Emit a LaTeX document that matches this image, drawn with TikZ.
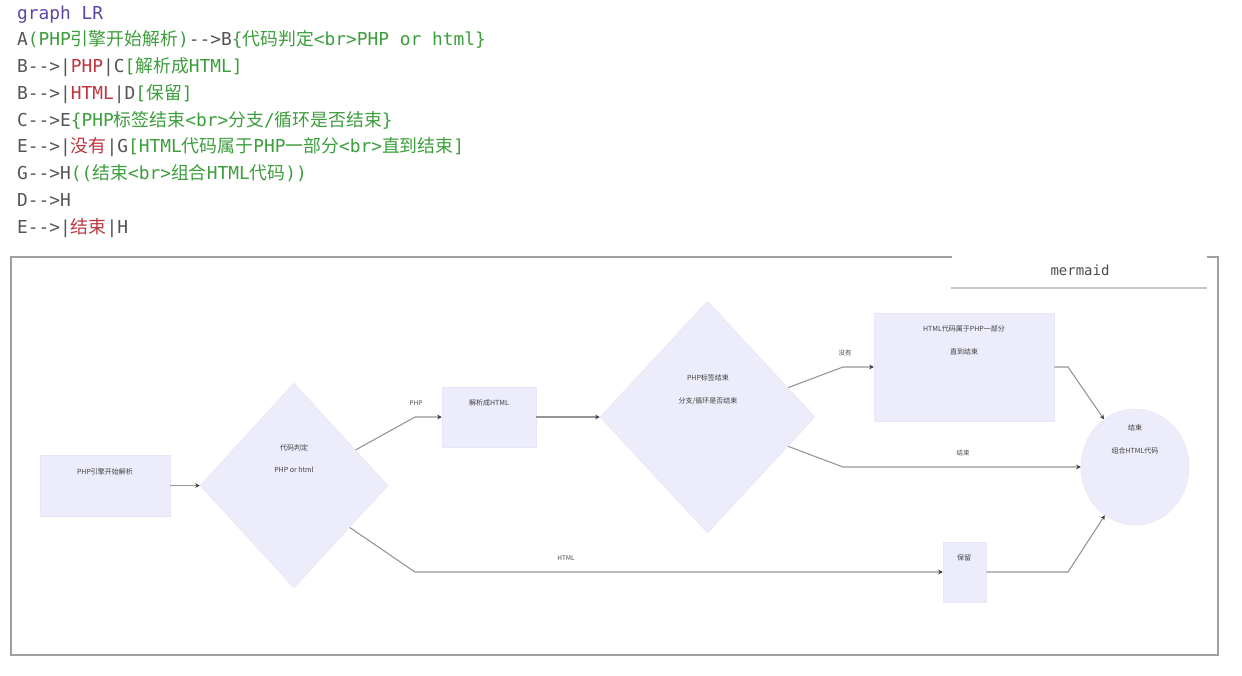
\documentclass[tikz,border=0pt]{standalone}
\usepackage{fontspec}
\setmonofont{DejaVu Sans Mono}
\newfontfamily\cjk{Noto Sans CJK SC}
\usetikzlibrary{shapes.geometric,arrows.meta}
\definecolor{kw}{RGB}{95,70,165}
\definecolor{grn}{RGB}{60,158,60}
\definecolor{rd}{RGB}{192,52,62}
\definecolor{idc}{RGB}{85,85,85}
\definecolor{mfill}{RGB}{236,236,251}
\definecolor{mline}{RGB}{230,230,248}
\definecolor{edgec}{RGB}{150,150,150}
\definecolor{tipc}{RGB}{60,60,60}
\definecolor{framec}{RGB}{160,160,160}
\newcommand\zh[1]{{\cjk #1}}
\newcommand\G[1]{{\color{grn}#1}}
\newcommand\R[1]{{\color{rd}#1}}
\tikzset{
  code/.style={anchor=base west, inner sep=0pt, font=\ttfamily\fontsize{17.85}{20}\selectfont, text=idc},
  box/.style={rectangle, draw=mline, fill=mfill, line width=0.5pt, inner sep=0pt},
  dia/.style={diamond, draw=mline, fill=mfill, line width=0.5pt, inner sep=0pt},
  circ/.style={ellipse, draw=mline, fill=mfill, line width=0.5pt, inner sep=0pt},
  txt/.style={inner sep=0pt, font=\cjk\fontsize{7}{8}\selectfont, text=black!75},
  lbl/.style={inner sep=0pt, font=\cjk\fontsize{6.5}{7}\selectfont, text=black!70},
  edge/.style={draw=edgec, line width=1.1pt, -{Stealth[length=4.5pt,width=4.5pt,color=tipc]}},
}
\begin{document}
\begin{tikzpicture}[x=1pt,y=-1pt]
\fill[white] (0,0) rectangle (1242,675);
\useasboundingbox (0,0) rectangle (1242,675);

% code
\node[code] (l1) at (17,19) {\color{kw}graph LR};
\node[code] (l2) at (17,45.75) {A\G{(PHP\zh{引擎开始解析})}-->B\G{\{\zh{代码判定}<br>PHP or html\}}};
\node[code] (l3) at (17,72.5) {B-->|\R{PHP}|C\G{[\zh{解析成}HTML]}};
\node[code] (l4) at (17,99.25) {B-->|\R{HTML}|D\G{[\zh{保留}]}};
\node[code] (l5) at (17,126) {C-->E\G{\{PHP\zh{标签结束}<br>\zh{分支}/\zh{循环是否结束}\}}};
\node[code] (l6) at (17,152.75) {E-->|\R{\zh{没有}}|G\G{[HTML\zh{代码属于}PHP\zh{一部分}<br>\zh{直到结束}]}};
\node[code] (l7) at (17,179.5) {G-->H\G{((\zh{结束}<br>\zh{组合}HTML\zh{代码}))}};
\node[code] (l8) at (17,206.25) {D-->H};
\node[code] (l9) at (17,233) {E-->|\R{\zh{结束}}|H};

% frame
\draw[framec, line width=1.4pt] (952,257) -- (11,257) -- (11,655) -- (1218,655) -- (1218,257) -- (1207,257);
\draw[black!22, line width=1.2pt] (951,288) -- (1207,288);
\node[inner sep=0pt, font=\ttfamily\fontsize{14}{16}\selectfont, text=black!70] (mm) at (1080,270) {mermaid};

% shapes
\node[box, minimum width=130, minimum height=61] (A) at (105,485.5) {};
\node[dia, minimum width=188, minimum height=205] (B) at (294,485.5) {};
\node[box, minimum width=94, minimum height=60] (C) at (489,417) {};
\node[dia, minimum width=215, minimum height=232] (E) at (707.5,417) {};
\node[box, minimum width=180, minimum height=108] (G) at (964,367) {};
\node[box, minimum width=43, minimum height=60] (D) at (964.5,572) {};
\node[circ, minimum width=108, minimum height=116] (H) at (1135,467) {};

% node texts
\node[txt] (tA) at (105,472) {PHP引擎开始解析};
\node[txt] (tB1) at (294,448) {代码判定};
\node[txt] (tB2) at (294,470) {PHP or html};
\node[txt] (tC) at (489,403) {解析成HTML};
\node[txt] (tE1) at (708,378) {PHP标签结束};
\node[txt] (tE2) at (708,401) {分支/循环是否结束};
\node[txt] (tG1) at (964,329) {HTML代码属于PHP一部分};
\node[txt] (tG2) at (964,352) {直到结束};
\node[txt] (tD) at (964,558) {保留};
\node[txt] (tH1) at (1135,428) {结束};
\node[txt] (tH2) at (1135,451) {组合HTML代码};

% bend points
\coordinate (pB1) at (415,417);
\coordinate (pB2) at (415,572);
\coordinate (pE1) at (843,367);
\coordinate (pE2) at (843,467);
\coordinate (pG) at (1068,367);
\coordinate (pD) at (1068,572);

% edges
\draw[edge] (A) -- (B);
\draw[edge] (B.30) -- (pB1) -- (C.west);
\draw[edge] (B.-37) -- (pB2) -- (D.west);
\draw[edge] (C) -- (E);
\draw[edge] (E.20) -- (pE1) -- (G.west);
\draw[edge] (E.-20) -- (pE2) -- (H.west);
\draw[edge] (G.east) -- (pG) -- (H.123);
\draw[edge] (D.east) -- (pD) -- (H.238);

% edge labels
\node[lbl] (lPHP) at (416,403) {PHP};
\node[lbl] (lHTML) at (566,558) {HTML};
\node[lbl] (lMY) at (845,353) {没有};
\node[lbl] (lJS) at (963,453) {结束};
\end{tikzpicture}
\end{document}
